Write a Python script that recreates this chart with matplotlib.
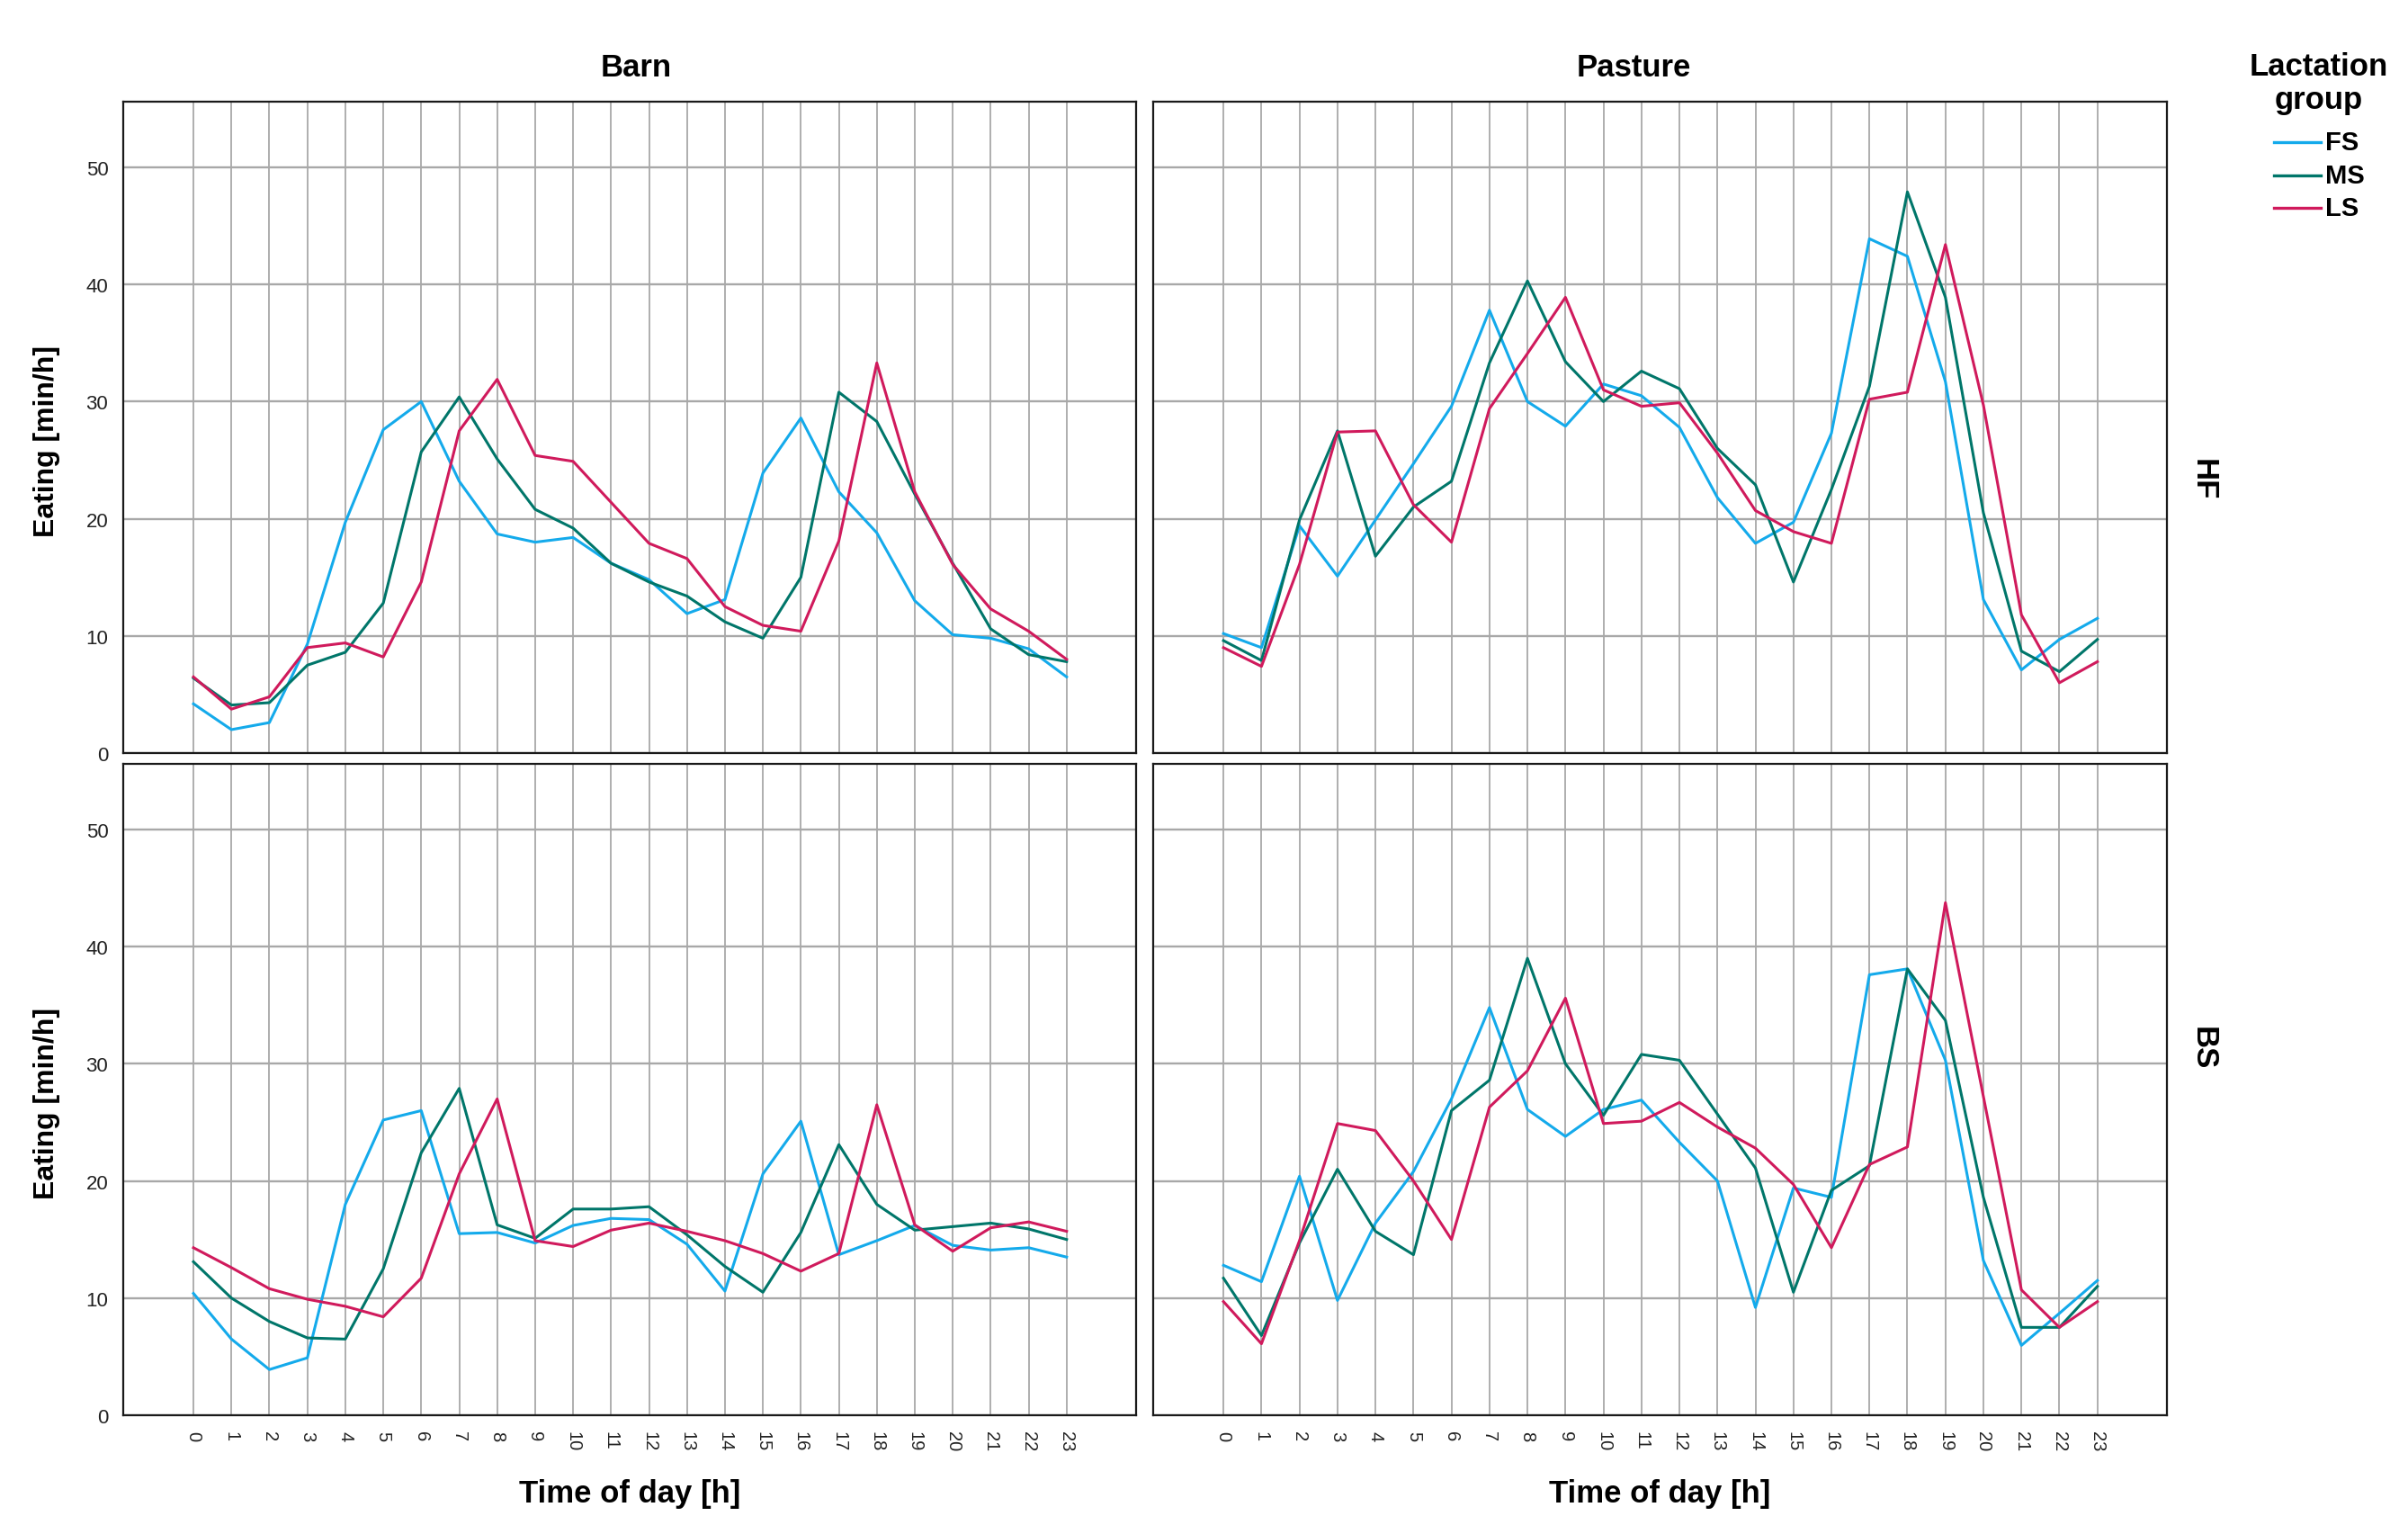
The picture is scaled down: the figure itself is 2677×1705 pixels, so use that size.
import matplotlib
matplotlib.use("Agg")
import matplotlib.pyplot as plt
from matplotlib.lines import Line2D

plt.rcParams['font.family'] = ['Liberation Sans', 'DejaVu Sans']

hours = list(range(24))
hour_labels = [str(h) for h in hours]
locations = ["Barn", "Pasture"]
breeds = ["HF", "BS"]
groups = ["FS", "MS", "LS"]
group_colors = ["#14aaeb", "#00766a", "#d01a5c"]

# Barn, HF
barn_hf_fs = [4.2, 2.0, 2.6, 9.3, 19.7, 27.6, 30.0, 23.2, 18.7, 18.0, 18.4, 16.2,
              14.8, 11.9, 13.1, 23.9, 28.6, 22.3, 18.8, 13.0, 10.1, 9.8, 8.9, 6.5]
barn_hf_ms = [6.4, 4.1, 4.3, 7.5, 8.6, 12.8, 25.7, 30.4, 25.1, 20.8, 19.2, 16.2,
              14.6, 13.4, 11.2, 9.8, 15.0, 30.8, 28.3, 22.1, 16.2, 10.6, 8.4, 7.8]
barn_hf_ls = [6.5, 3.75, 4.8, 9.0, 9.4, 8.2, 14.6, 27.5, 31.9, 25.4, 24.9, 21.4,
              17.9, 16.6, 12.5, 10.9, 10.4, 18.1, 33.3, 22.3, 16.1, 12.3, 10.4, 8.0]
# Pasture, HF
past_hf_fs = [10.2, 9.0, 19.4, 15.1, 19.9, 24.7, 29.6, 37.8, 30.0, 27.9, 31.5, 30.5,
              27.8, 21.8, 17.9, 19.7, 27.3, 43.9, 42.4, 31.7, 13.1, 7.1, 9.7, 11.5]
past_hf_ms = [9.6, 7.9, 19.9, 27.5, 16.8, 21.0, 23.2, 33.3, 40.3, 33.4, 30.0, 32.6,
              31.1, 26.0, 22.9, 14.6, 22.5, 31.3, 47.9, 38.9, 20.5, 8.7, 6.95, 9.7]
past_hf_ls = [9.0, 7.4, 16.1, 27.4, 27.5, 21.2, 18.0, 29.4, 34.1, 38.9, 31.0, 29.6,
              29.9, 25.6, 20.7, 18.9, 17.9, 30.2, 30.8, 43.4, 29.7, 11.8, 6.0, 7.8]
# Barn, BS
barn_bs_fs = [10.4, 6.5, 3.9, 4.9, 18.0, 25.2, 26.0, 15.5, 15.6, 14.7, 16.2, 16.8,
              16.7, 14.6, 10.6, 20.6, 25.1, 13.7, 14.9, 16.2, 14.5, 14.1, 14.3, 13.5]
barn_bs_ms = [13.1, 10.0, 8.0, 6.6, 6.5, 12.5, 22.4, 27.9, 16.25, 15.1, 17.6, 17.6,
              17.8, 15.4, 12.7, 10.5, 15.6, 23.1, 18.0, 15.8, 16.1, 16.4, 15.9, 15.0]
barn_bs_ls = [14.3, 12.6, 10.8, 9.9, 9.3, 8.4, 11.7, 20.6, 27.0, 14.9, 14.4, 15.8,
              16.4, 15.7, 14.9, 13.8, 12.3, 13.8, 26.5, 16.25, 14.0, 16.0, 16.5, 15.7]
# Pasture, BS
past_bs_fs = [12.8, 11.4, 20.4, 9.8, 16.4, 20.8, 27.0, 34.8, 26.1, 23.8, 26.1, 26.9,
              23.3, 20.0, 9.2, 19.4, 18.6, 37.6, 38.1, 30.3, 13.2, 5.96, 8.7, 11.5]
past_bs_ms = [11.7, 6.8, 14.7, 21.0, 15.7, 13.7, 26.0, 28.6, 39.0, 30.0, 25.6, 30.8,
              30.3, 25.7, 21.1, 10.5, 19.2, 21.3, 38.1, 33.7, 18.6, 7.5, 7.5, 11.0]
past_bs_ls = [9.7, 6.1, 14.9, 24.9, 24.3, 20.0, 15.0, 26.3, 29.4, 35.6, 24.9, 25.1,
              26.7, 24.6, 22.8, 19.7, 14.3, 21.4, 22.9, 43.75, 27.2, 10.7, 7.5, 9.7]

y_ticks = [0, 10, 20, 30, 40, 50]
y_tick_labels = ["0", "10", "20", "30", "40", "50"]

panel_data = {
    ("HF", "Barn"): [barn_hf_fs, barn_hf_ms, barn_hf_ls],
    ("HF", "Pasture"): [past_hf_fs, past_hf_ms, past_hf_ls],
    ("BS", "Barn"): [barn_bs_fs, barn_bs_ms, barn_bs_ls],
    ("BS", "Pasture"): [past_bs_fs, past_bs_ms, past_bs_ls],
}

W, H = 2677, 1706
fig = plt.figure(figsize=(W / 100, H / 100), dpi=100)

col_x = [(137, 1263), (1282, 2409)]
row_y = [(114, 838), (850, 1574)]
title_x = [0.506, 0.474]

grid_col = "#a8a8a8"
for r, breed in enumerate(breeds):
    for c, loc in enumerate(locations):
        x0, x1 = col_x[c]
        y0, y1 = row_y[r]
        ax = fig.add_axes([x0 / W, 1 - y1 / H, (x1 - x0) / W, (y1 - y0) / H])
        for series, color, g in zip(panel_data[(breed, loc)], group_colors, groups):
            ax.plot(hours, series, color=color, lw=2.2, label=g, zorder=3)
        ax.set_xlim(-1.85, 24.83)
        ax.set_ylim(0, 55.6)
        ax.set_xticks(hours)
        ax.set_yticks(y_ticks)
        ax.grid(True, axis="x", color=grid_col, lw=1.3, zorder=1)
        ax.grid(True, axis="y", color=grid_col, lw=1.7, zorder=1)
        ax.set_axisbelow(True)
        for sp in ax.spines.values():
            sp.set_color("#1a1a1a")
            sp.set_linewidth(1.6)
        ax.tick_params(length=0, pad=12)
        if c == 0:
            ax.set_yticklabels(y_tick_labels, fontsize=16, color="#222222")
            ax.text(-0.0755, 0.48, "Eating [min/h]", transform=ax.transAxes,
                    rotation=90, ha="center", va="center", fontsize=23,
                    fontweight="bold")
        else:
            ax.set_yticklabels([])
        if r == 1:
            ax.set_xticklabels(hour_labels, rotation=270, fontsize=14.5,
                               color="#222222", va="top", ha="center")
            ax.text(0.5, -0.119, "Time of day [h]", transform=ax.transAxes,
                    ha="center", va="center", fontsize=25, fontweight="bold")
        else:
            ax.set_xticklabels([])
        if r == 0:
            ax.text(title_x[c], 1.0525, loc, transform=ax.transAxes, ha="center",
                    va="center", fontsize=25, fontweight="bold")
        if c == 1:
            ypos = 0.421 if r == 0 else 0.565
            ax.text(1.0355, ypos, breed, transform=ax.transAxes, rotation=270,
                    ha="center", va="center", fontsize=25, fontweight="bold")

# legend
fig.text(2578 / W, 1 - 75 / H, "Lactation", ha="center", va="center",
         fontsize=25, fontweight="bold")
fig.text(2578 / W, 1 - 111 / H, "group", ha="center", va="center",
         fontsize=25, fontweight="bold")
for g, color, yy in zip(groups, group_colors, [159, 196, 232]):
    fig.add_artist(Line2D([2528 / W, 2580 / W], [1 - yy / H, 1 - yy / H],
                          color=color, lw=2.4, transform=fig.transFigure))
    fig.text(2585 / W, 1 - yy / H, g, ha="left", va="center", fontsize=21,
             fontweight="bold")

fig.savefig("out.png", dpi=100, facecolor="white")
